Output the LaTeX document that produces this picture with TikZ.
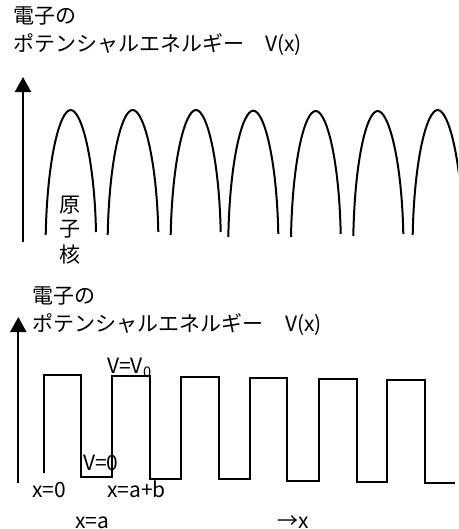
\documentclass[tikz,border=0pt]{standalone}
\usepackage{fontspec}
\newfontfamily\jp{Noto Sans CJK JP}
\usetikzlibrary{arrows.meta}
\begin{document}
\begin{tikzpicture}[x=0.75pt,y=-0.75pt,
  lbl/.style={inner sep=0pt,anchor=base west,font=\jp\fontsize{15.75}{18}\selectfont},
  nuc/.style={inner sep=0pt,anchor=center,font=\jp\fontsize{15.75}{18}\selectfont},
  curve/.style={line width=1.5pt,line join=miter},
  axis/.style={line width=1.5pt,-{Triangle[length=11.25pt,width=12pt]}}]
\useasboundingbox (0,0) rectangle (458,529);
% ---------- top panel ----------
\node[lbl] (t1) at (13,23.5) {電子の};
\node[lbl] (t2) at (13,51.5) {ポテンシャルエネルギー};
\node[lbl] (t3) at (265,51.5) {V(x)};
\coordinate (a1s) at (23,242);
\coordinate (a1e) at (23,77);
\draw[axis] (a1s) -- (a1e);
\begin{scope}
\clip (0,0) rectangle (458,529);
\foreach \L/\yl/\P/\yp/\R/\yr in {45.7/235/70.7/110/96/232, 107.7/235/132.7/110/158.3/232,
  170.7/235/196/110/220.7/232, 228.3/237/253.3/110.7/278.3/234, 291/237/315.7/111/340.7/234,
  353.3/236/377.7/111/403.3/234, 412.7/235/437.7/110/463/232}
  \draw[curve] (\L,\yl) .. controls ({\L+1.5},160) and ({\P-11},\yp) .. (\P,\yp)
     .. controls ({\P+11},\yp) and ({\R-1.5},160) .. (\R,\yr);
\end{scope}
\node[nuc] (n1) at (70,205.5) {原};
\node[nuc] (n2) at (70,229) {子};
\node[nuc] (n3) at (70,255) {核};
% ---------- bottom panel ----------
\node[lbl] (b1) at (32,303.5) {電子の};
\node[lbl] (b2) at (32,331.5) {ポテンシャルエネルギー};
\node[lbl] (b3) at (285,331.5) {V(x)};
\coordinate (a2s) at (18.3,483);
\coordinate (a2e) at (18.3,317);
\draw[axis] (a2s) -- (a2e);
\draw[curve] (44.3,473.3) -- (44.3,375) -- (81,375) -- (81,476.7) -- (112.3,476.7)
  -- (112.3,376) -- (150,376) -- (150,478.5) -- (181,478.5) -- (181,376.7)
  -- (219,376.7) -- (219,479.3) -- (250,479.3) -- (250,377.7) -- (287.3,377.7)
  -- (287.3,480.7) -- (319,480.7) -- (319,379) -- (356.7,379) -- (356.7,482)
  -- (387.3,482) -- (387.3,380) -- (425,380) -- (425,483.3) -- (455,483.3);
\node[lbl] (v0) at (107,373) {V=V\textsubscript{0}};
\node[lbl] (vz) at (83,470) {V=0};
\node[lbl] (x0) at (32,497) {x=0};
\node[lbl] (xab) at (107,497) {x=a+b};
\node[lbl] (xa) at (75,528) {x=a};
\node[lbl] (xx) at (277,528) {→x};
\end{tikzpicture}
\end{document}
